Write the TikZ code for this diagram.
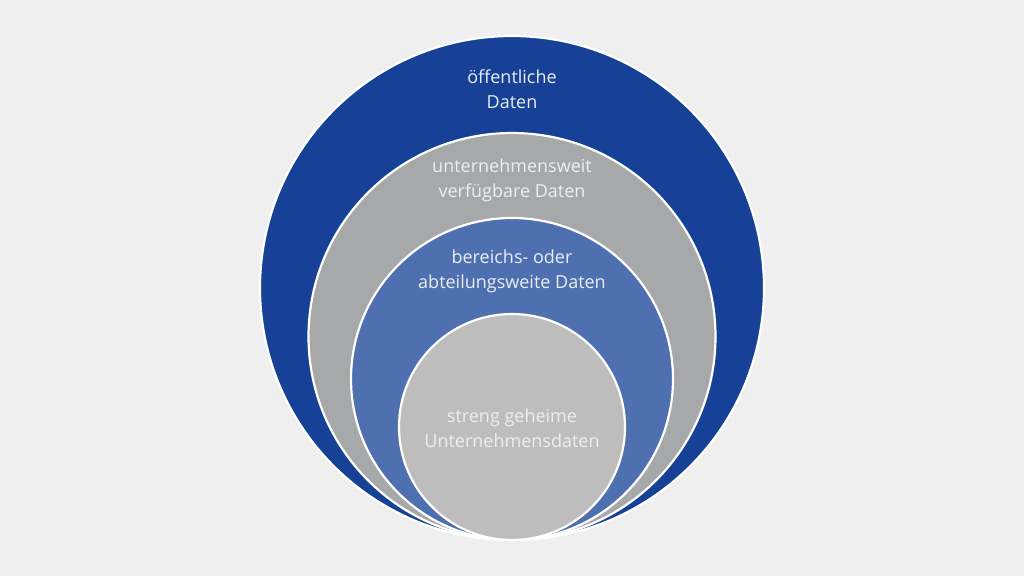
\documentclass[tikz,border=0pt]{standalone}
\usepackage{fontspec}
\setmainfont{Open Sans}
\definecolor{bg}{HTML}{EFEFEF}
\definecolor{darkblue}{HTML}{164197}
\definecolor{midgray}{HTML}{A7A8A9}
\definecolor{midblue}{HTML}{4E70B0}
\definecolor{lightgray}{HTML}{BCBDBC}
\definecolor{txt}{HTML}{EBEEF3}
\begin{document}
\begin{tikzpicture}[x=1pt,y=-1pt,
  ring/.style={draw=white,line width=2.2pt},
  lbl/.style={text=txt,font=\fontsize{18}{25}\selectfont,align=center,inner sep=0pt}]
\fill[bg] (0,0) rectangle (1024,576);
\useasboundingbox (0,0) rectangle (1024,576);
\draw[ring,fill=darkblue] (512,288) circle (252);
\draw[ring,fill=midgray] (512,336.5) circle (203.5);
\draw[ring,fill=midblue] (512,379) circle (161);
\draw[ring,fill=lightgray] (512,427) circle (113);
\node[lbl] (t1) at (512,89.5) {öffentliche\\Daten};
\node[lbl] (t2) at (512,180) {unternehmensweit\\verfügbare Daten};
\node[lbl] (t3) at (512,271.5) {bereichs- oder\\abteilungsweite Daten};
\node[lbl] (t4) at (512,428) {streng geheime\\Unternehmensdaten};
\end{tikzpicture}
\end{document}
